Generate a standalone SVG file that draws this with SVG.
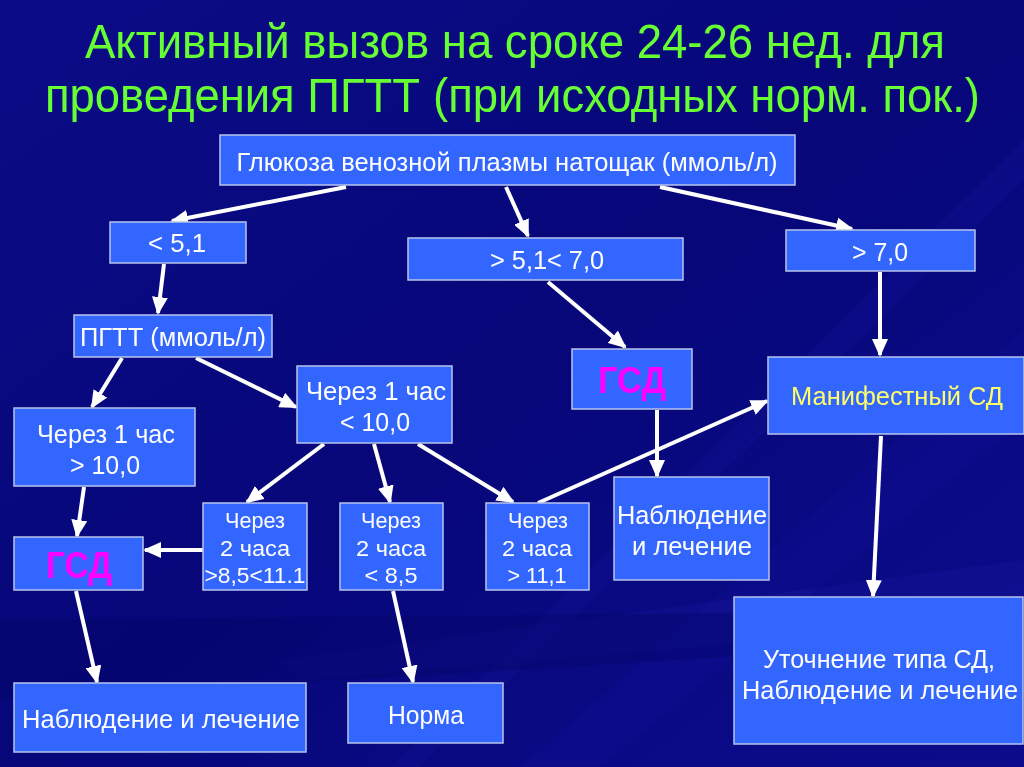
<svg xmlns="http://www.w3.org/2000/svg" width="1024" height="767" viewBox="0 0 1024 767">
<defs>
<linearGradient id="bg" x1="0" y1="0" x2="1" y2="1">
<stop offset="0" stop-color="#0b0b86"/>
<stop offset="0.5" stop-color="#07077a"/>
<stop offset="1" stop-color="#0c0c8c"/>
</linearGradient>
<marker id="ah" markerUnits="userSpaceOnUse" markerWidth="18" markerHeight="16" refX="16" refY="8" orient="auto">
<path d="M0,0 L18,8 L0,16 Z" fill="#ffffff"/>
</marker>
<style>
.box{fill:#3366ff;stroke:#b8c4ec;stroke-width:1.5}
.t{font-family:"Liberation Sans",Arial,sans-serif;font-size:26px;fill:#ffffff;text-anchor:middle}
.s{font-size:22px}
.title{font-family:"Liberation Sans",Arial,sans-serif;font-size:48px;fill:#66ff33;text-anchor:middle}
.gsd{font-family:"Liberation Sans",Arial,sans-serif;font-size:36px;font-weight:bold;fill:#ff00ff;text-anchor:middle}
.yel{fill:#ffff66}
.c{stroke:#ffffff;stroke-width:4;fill:none;marker-end:url(#ah)}
</style>
</defs>
<rect width="1024" height="767" fill="url(#bg)"/>
<g opacity="0.5">
<polygon points="1024,330 1024,420 600,767 520,767" fill="#1a1aa8" opacity="0.35"/>
<polygon points="1024,560 1024,620 300,680 280,660" fill="#2a2ab8" opacity="0.3"/>
<polygon points="1024,140 1024,180 420,767 390,767" fill="#2020b0" opacity="0.3"/>
<polygon points="0,620 0,700 1024,640 1024,610" fill="#000050" opacity="0.4"/>
</g>

<g id="title">
<text class="title" x="515" y="58" textLength="860" lengthAdjust="spacingAndGlyphs">Активный вызов на сроке 24-26 нед. для</text>
<text class="title" x="45" y="112" style="text-anchor:start" textLength="375" lengthAdjust="spacingAndGlyphs">проведения ПГТТ</text>
<text class="title" x="980" y="112" style="text-anchor:end" textLength="547" lengthAdjust="spacingAndGlyphs">(при исходных норм. пок.)</text>
</g>

<g id="connectors">
<line class="c" x1="346" y1="187" x2="172" y2="221"/>
<line class="c" x1="506" y1="187" x2="528" y2="236"/>
<line class="c" x1="660" y1="187" x2="852" y2="229"/>
<line class="c" x1="164" y1="264" x2="158" y2="313"/>
<line class="c" x1="548" y1="282" x2="625" y2="347"/>
<line class="c" x1="880" y1="272" x2="880" y2="355"/>
<line class="c" x1="122" y1="358" x2="92" y2="407"/>
<line class="c" x1="196" y1="358" x2="296" y2="407"/>
<line class="c" x1="324" y1="444" x2="247" y2="502"/>
<line class="c" x1="374" y1="444" x2="390" y2="502"/>
<line class="c" x1="418" y1="444" x2="513" y2="502"/>
<line class="c" x1="538" y1="503" x2="767" y2="401"/>
<line class="c" x1="657" y1="410" x2="657" y2="476"/>
<line class="c" x1="881" y1="436" x2="873" y2="596"/>
<line class="c" x1="84" y1="487" x2="77" y2="536"/>
<line class="c" x1="203" y1="550" x2="145" y2="550"/>
<line class="c" x1="76" y1="591" x2="97" y2="682"/>
<line class="c" x1="393" y1="591" x2="413" y2="682"/>
</g>

<g id="n-glucose">
<rect class="box" x="220" y="135" width="575" height="50"/>
<text class="t" x="507" y="171" textLength="541" lengthAdjust="spacingAndGlyphs">Глюкоза венозной плазмы натощак (ммоль/л)</text>
</g>
<g id="n-lt51">
<rect class="box" x="110" y="222" width="136" height="41"/>
<text class="t" x="177" y="252" textLength="58" lengthAdjust="spacingAndGlyphs">&lt; 5,1</text>
</g>
<g id="n-51-70">
<rect class="box" x="408" y="238" width="275" height="42"/>
<text class="t" x="547" y="269" textLength="114" lengthAdjust="spacingAndGlyphs">&gt; 5,1&lt; 7,0</text>
</g>
<g id="n-gt70">
<rect class="box" x="786" y="230" width="189" height="41"/>
<text class="t" x="880" y="261" textLength="56" lengthAdjust="spacingAndGlyphs">&gt; 7,0</text>
</g>
<g id="n-pgtt">
<rect class="box" x="74" y="315" width="198" height="42"/>
<text class="t" x="173" y="346" textLength="186" lengthAdjust="spacingAndGlyphs">ПГТТ (ммоль/л)</text>
</g>
<g id="n-1h-lt10">
<rect class="box" x="297" y="366" width="155" height="77"/>
<text class="t" x="376" y="400" textLength="140" lengthAdjust="spacingAndGlyphs">Через 1 час</text>
<text class="t" x="375" y="431" textLength="70" lengthAdjust="spacingAndGlyphs">&lt; 10,0</text>
</g>
<g id="n-gsd-mid">
<rect class="box" x="572" y="349" width="120" height="60"/>
<text class="gsd" x="632" y="393" textLength="68" lengthAdjust="spacingAndGlyphs">ГСД</text>
</g>
<g id="n-manifest">
<rect class="box" x="768" y="357" width="256" height="77"/>
<text class="t yel" x="897" y="405" textLength="212" lengthAdjust="spacingAndGlyphs">Манифестный СД</text>
</g>
<g id="n-1h-gt10">
<rect class="box" x="14" y="408" width="181" height="78"/>
<text class="t" x="106" y="443" textLength="138" lengthAdjust="spacingAndGlyphs">Через 1 час</text>
<text class="t" x="105" y="474" textLength="70" lengthAdjust="spacingAndGlyphs">&gt; 10,0</text>
</g>
<g id="n-2h-mid">
<rect class="box" x="203" y="503" width="104" height="87"/>
<text class="t s" x="255" y="528" textLength="60" lengthAdjust="spacingAndGlyphs">Через</text>
<text class="t s" x="255" y="556" textLength="70" lengthAdjust="spacingAndGlyphs">2 часа</text>
<text class="t s" x="255" y="583" textLength="101" lengthAdjust="spacingAndGlyphs">&gt;8,5&lt;11.1</text>
</g>
<g id="n-2h-lt85">
<rect class="box" x="340" y="503" width="103" height="87"/>
<text class="t s" x="391" y="528" textLength="60" lengthAdjust="spacingAndGlyphs">Через</text>
<text class="t s" x="391" y="556" textLength="70" lengthAdjust="spacingAndGlyphs">2 часа</text>
<text class="t s" x="391" y="583" textLength="53" lengthAdjust="spacingAndGlyphs">&lt; 8,5</text>
</g>
<g id="n-2h-gt111">
<rect class="box" x="486" y="503" width="103" height="87"/>
<text class="t s" x="538" y="528" textLength="60" lengthAdjust="spacingAndGlyphs">Через</text>
<text class="t s" x="537" y="556" textLength="70" lengthAdjust="spacingAndGlyphs">2 часа</text>
<text class="t s" x="537" y="583" textLength="59" lengthAdjust="spacingAndGlyphs">&gt; 11,1</text>
</g>
<g id="n-obs-mid">
<rect class="box" x="614" y="477" width="155" height="103"/>
<text class="t" x="692" y="524" textLength="150" lengthAdjust="spacingAndGlyphs">Наблюдение</text>
<text class="t" x="692" y="555" textLength="120" lengthAdjust="spacingAndGlyphs">и лечение</text>
</g>
<g id="n-gsd-left">
<rect class="box" x="14" y="537" width="129" height="53"/>
<text class="gsd" x="79" y="578" textLength="66" lengthAdjust="spacingAndGlyphs">ГСД</text>
</g>
<g id="n-clarify">
<rect class="box" x="734" y="597" width="289" height="147"/>
<text class="t" x="879" y="668" textLength="232" lengthAdjust="spacingAndGlyphs">Уточнение типа СД,</text>
<text class="t" x="880" y="699" textLength="276" lengthAdjust="spacingAndGlyphs">Наблюдение и лечение</text>
</g>
<g id="n-obs-left">
<rect class="box" x="14" y="683" width="292" height="69"/>
<text class="t" x="161" y="728" textLength="278" lengthAdjust="spacingAndGlyphs">Наблюдение и лечение</text>
</g>
<g id="n-norm">
<rect class="box" x="348" y="683" width="155" height="60"/>
<text class="t" x="426" y="724" textLength="76" lengthAdjust="spacingAndGlyphs">Норма</text>
</g>
</svg>
